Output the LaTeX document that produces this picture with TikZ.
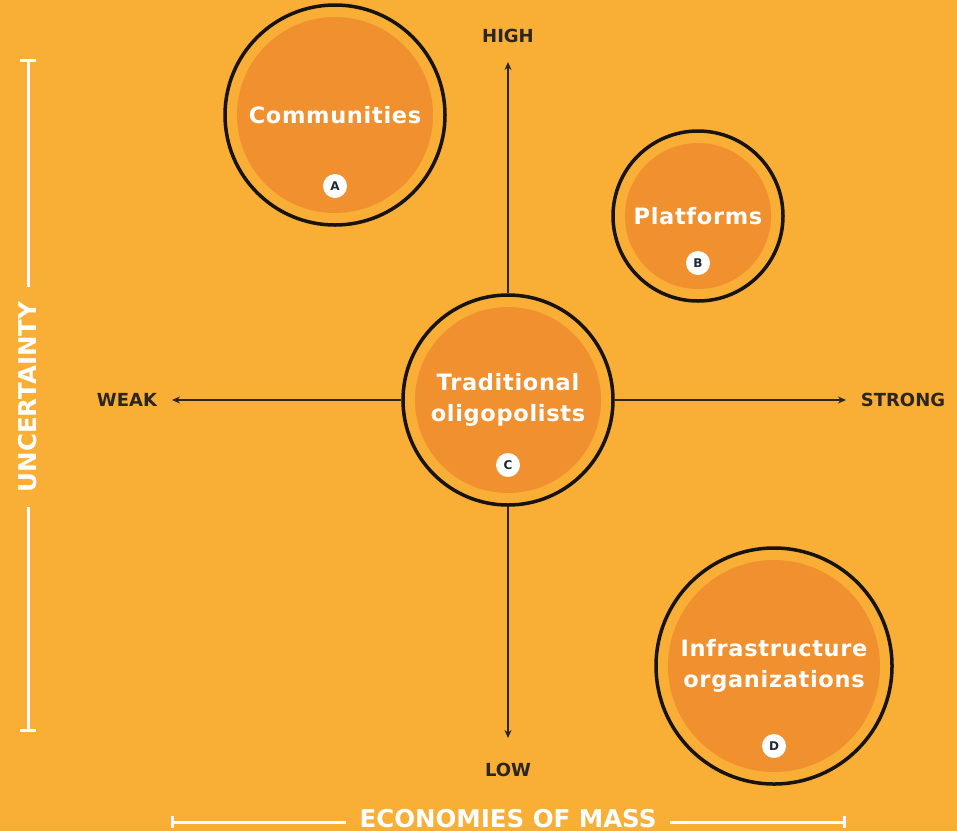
\documentclass[tikz,border=0pt]{standalone}
\usepackage{fontspec}
\usetikzlibrary{arrows.meta}
\setmainfont{DejaVu Sans}
\newfontfamily\bubblefont{DejaVu Sans}[LetterSpace=3]
\newfontfamily\axisfont{DejaVu Sans}
\definecolor{bg}{HTML}{F9AE35}
\definecolor{core}{HTML}{F0902F}
\definecolor{ring}{HTML}{161310}
\definecolor{ink}{HTML}{2B2622}
\definecolor{badgeink}{HTML}{1E2A3A}
\tikzset{
  ringnode/.style={circle,draw=ring,line width=3.5pt,inner sep=0pt,minimum size=#1},
  corefill/.style={fill=core},
  bubbletext/.style={text=white,align=center,font=\bubblefont\bfseries\fontsize{22.5}{31}\selectfont},
  badge/.style={circle,fill=white,inner sep=0pt,minimum size=24pt,text=badgeink,font=\bfseries\fontsize{12}{12}\selectfont},
  axislabel/.style={text=ink,font=\axisfont\bfseries\fontsize{18}{18}\selectfont},
  axisline/.style={draw=ink,line width=1.2pt},
  axisarrow/.style={axisline,-{Stealth[length=8pt,width=7pt]}},
  scalebar/.style={draw=white,line width=3pt},
  scaletitle/.style={text=white,inner xsep=14pt,inner ysep=0pt,font=\axisfont\bfseries\fontsize{24.5}{24.5}\selectfont},
}
\begin{document}
\begin{tikzpicture}[x=1pt,y=-1pt]
\fill[bg] (0,0) rectangle (957,831);
\useasboundingbox (0,0) rectangle (957,831);

% filled cores of the four bubbles
\fill[corefill] (335,115) circle (98);
\fill[corefill] (698,216) circle (73);
\fill[corefill] (508,400) circle (93);
\fill[corefill] (774,666) circle (106);

% outer rings
\node[ringnode=220pt] (comm) at (335,115) {};
\node[ringnode=170pt] (plat) at (698,216) {};
\node[ringnode=210pt] (trad) at (508,400) {};
\node[ringnode=236pt] (infra) at (774,666) {};

% bubble titles
\node[bubbletext] (commT) at (335,115) {Communities};
\node[bubbletext] (platT) at (698,216) {Platforms};
\node[bubbletext] (tradT) at (508,400) {Traditional\\oligopolists};
\node[bubbletext] (infraT) at (774,666) {Infrastructure\\organizations};

% letter badges
\node[badge] (bA) at (335,186) {A};
\node[badge] (bB) at (698,263) {B};
\node[badge] (bC) at (508,465) {C};
\node[badge] (bD) at (774,746) {D};

% axis ends
\coordinate (up) at (508,62);
\coordinate (down) at (508,738);
\coordinate (left) at (172,400);
\coordinate (right) at (846,400);

\draw[axisarrow] (trad.north) -- (up);
\draw[axisarrow] (trad.south) -- (down);
\draw[axisarrow] (trad.west) -- (left);
\draw[axisarrow] (trad.east) -- (right);

\node[axislabel] (high) at (508,36) {HIGH};
\node[axislabel] (low) at (508,770) {LOW};
\node[axislabel] (weak) at (127,400) {WEAK};
\node[axislabel] (strong) at (903,400) {STRONG};

% vertical scale bar
\node[scaletitle,rotate=90] (unc) at (28,397) {UNCERTAINTY};
\coordinate (uncTop) at (28,60);
\coordinate (uncBot) at (28,730);
\draw[scalebar] (uncTop) -- (unc.east);
\draw[scalebar] (unc.west) -- (uncBot);
\draw[scalebar] ([xshift=-8pt]uncTop) -- ([xshift=8pt]uncTop);
\draw[scalebar] ([xshift=-8pt]uncBot) -- ([xshift=8pt]uncBot);

% horizontal scale bar
\node[scaletitle,anchor=base,inner xsep=13pt] (eom) at (508,827) {ECONOMIES OF MASS};
\coordinate (eomL) at (172,822);
\coordinate (eomR) at (844,822);
\draw[scalebar] (eomL) -- (eom.west |- eomL);
\draw[scalebar] (eom.east |- eomR) -- (eomR);
\draw[scalebar] ([yshift=-6pt]eomL) -- ([yshift=6pt]eomL);
\draw[scalebar] ([yshift=-6pt]eomR) -- ([yshift=6pt]eomR);
\end{tikzpicture}
\end{document}
